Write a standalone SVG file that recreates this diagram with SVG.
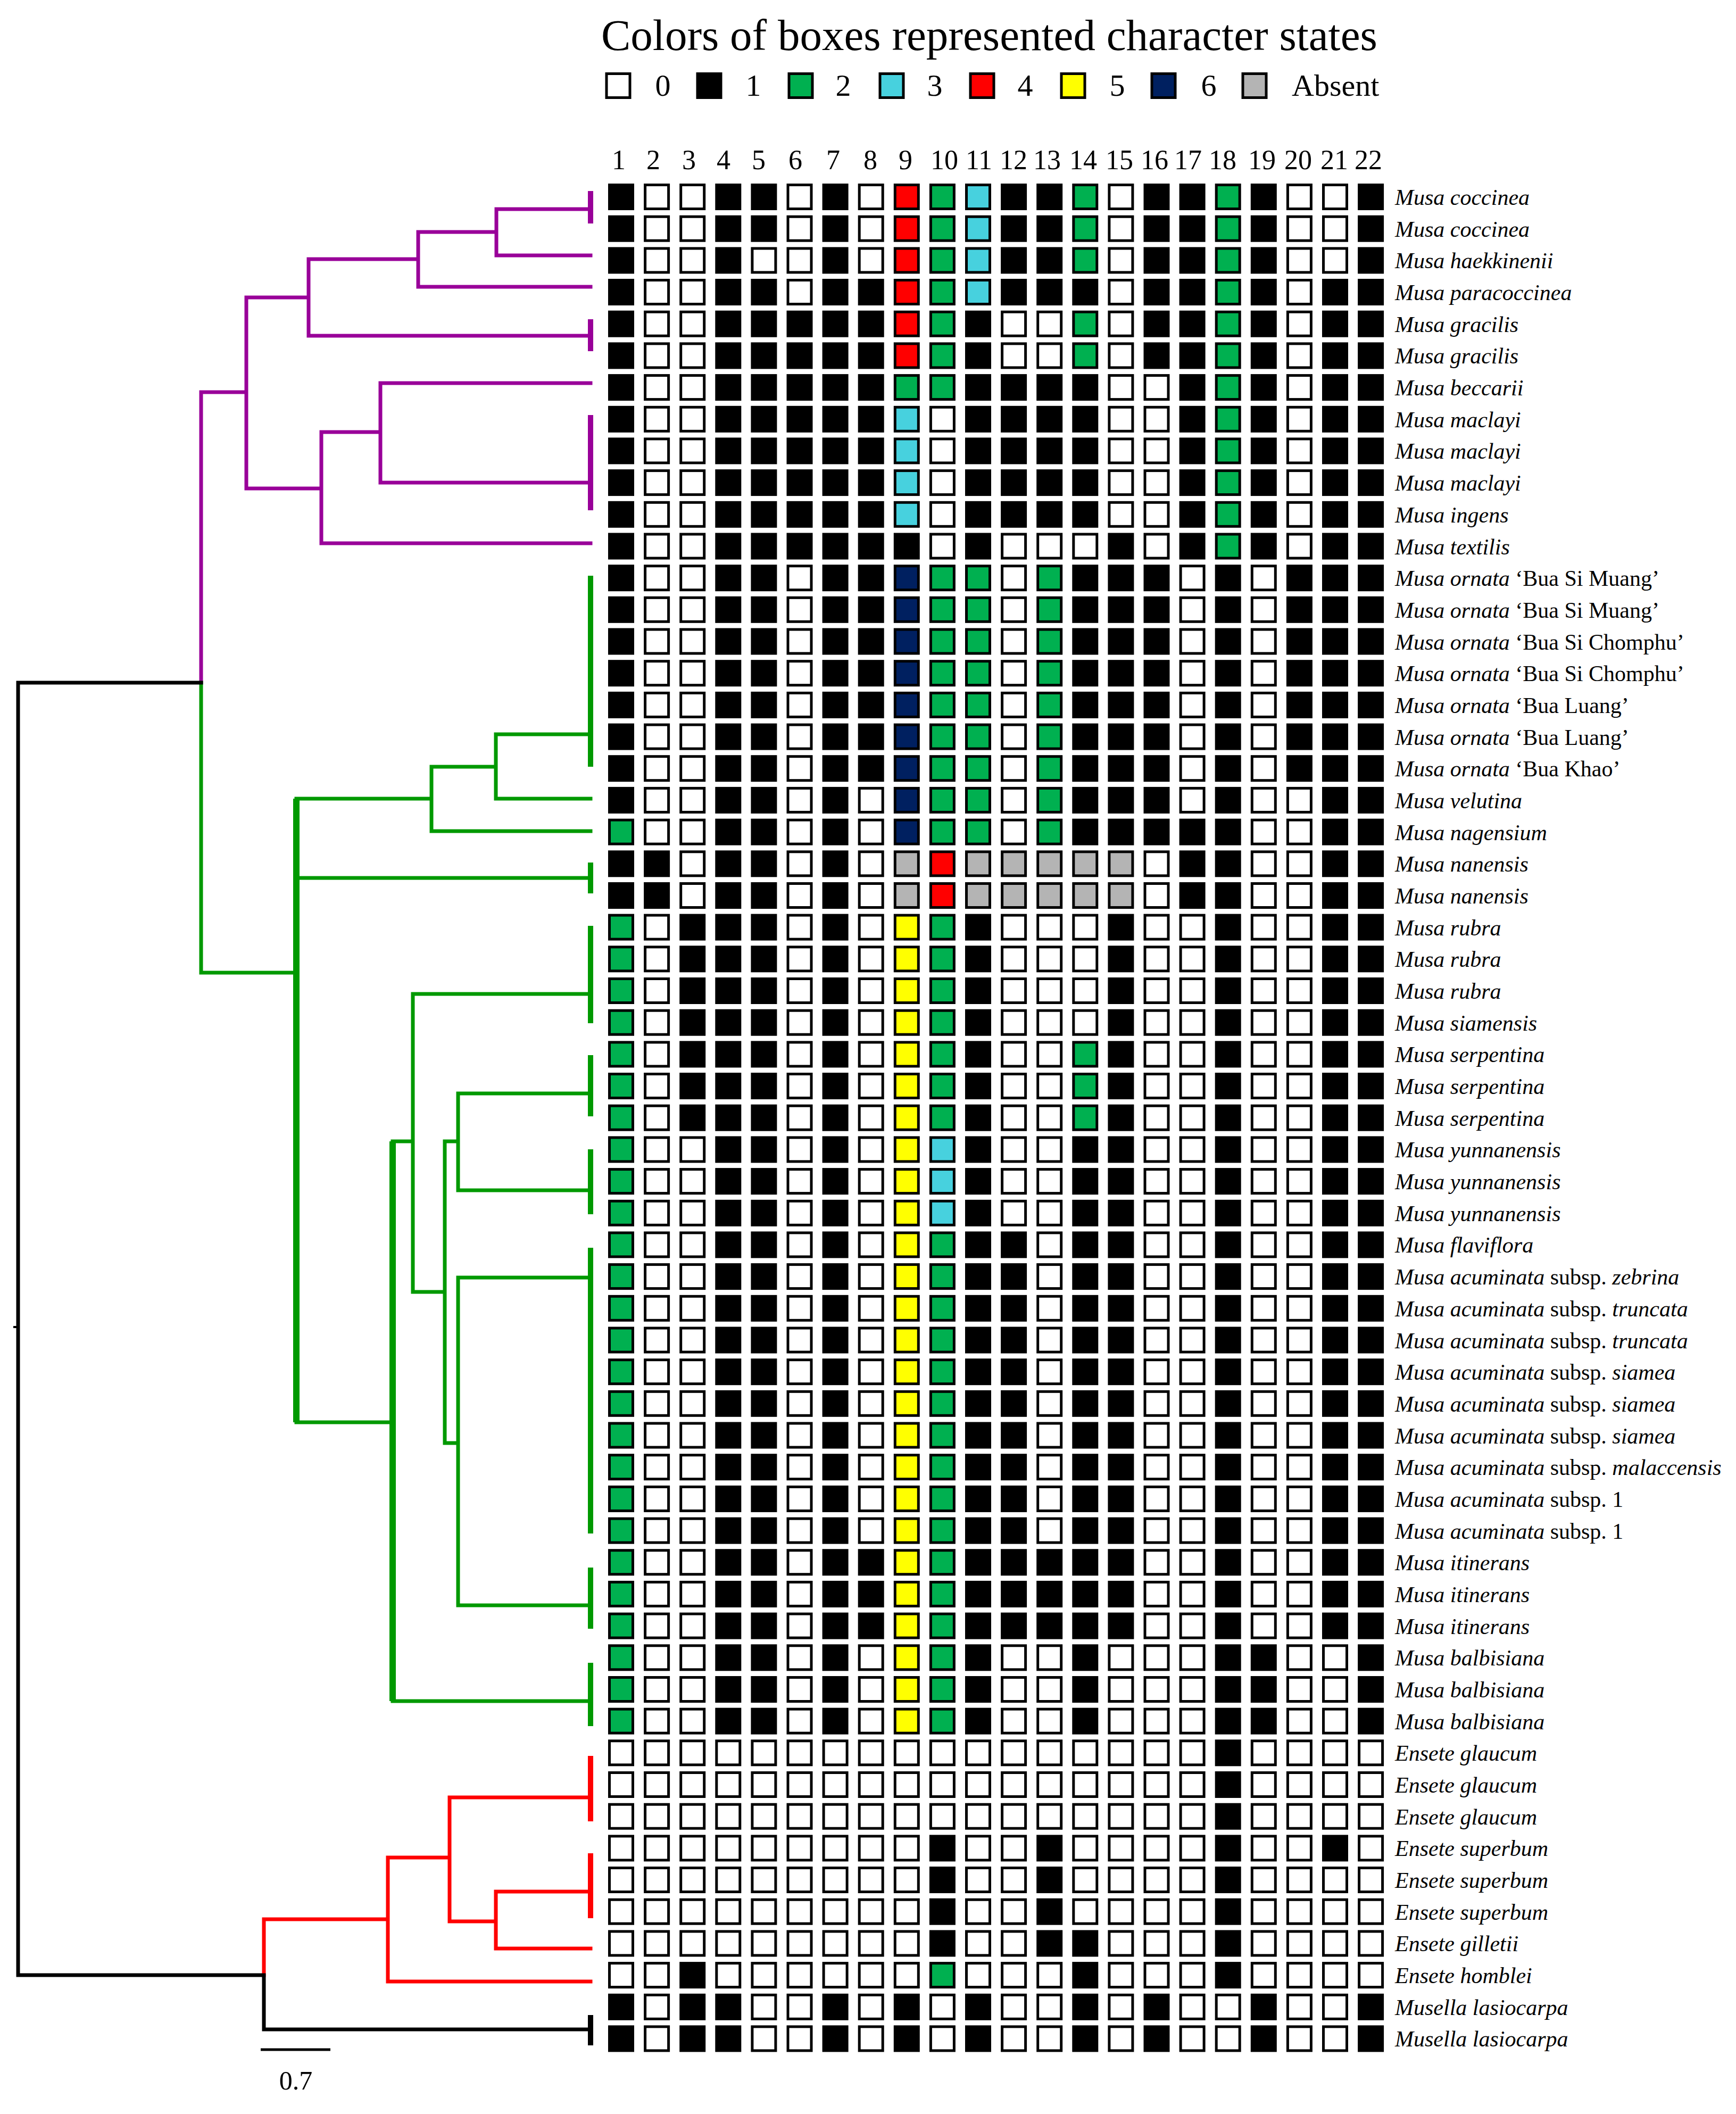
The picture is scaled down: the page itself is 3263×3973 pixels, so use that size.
<svg xmlns="http://www.w3.org/2000/svg" xmlns:xlink="http://www.w3.org/1999/xlink" width="3263" height="3973" viewBox="0 0 3263 3973">
<style>
text{font-family:"Liberation Serif","Times New Roman",serif;fill:#000}
.ttl{font-size:83px}
.lg{font-size:58px}
.cn{font-size:52px;text-anchor:middle}
.lb{font-size:42px;font-style:italic}
.n{font-style:normal}
.bx{stroke:#000;stroke-width:5}
.tr{fill:none;stroke-width:7;stroke-linecap:square;stroke-linejoin:miter}
.tip{fill:none;stroke-width:10}
.pu{stroke:#990099}.gr{stroke:#009900}.rd{stroke:#ff0000}.bk{stroke:#000}
</style>
<defs>
<rect id="a" class="bx" x="-22" y="-22.5" width="44" height="45" fill="#ffffff"/>
<rect id="b" class="bx" x="-22" y="-22.5" width="44" height="45" fill="#000000"/>
<rect id="g" class="bx" x="-22" y="-22.5" width="44" height="45" fill="#00b050"/>
<rect id="c" class="bx" x="-22" y="-22.5" width="44" height="45" fill="#47d1de"/>
<rect id="r" class="bx" x="-22" y="-22.5" width="44" height="45" fill="#ff0000"/>
<rect id="y" class="bx" x="-22" y="-22.5" width="44" height="45" fill="#ffff00"/>
<rect id="n" class="bx" x="-22" y="-22.5" width="44" height="45" fill="#002060"/>
<rect id="x" class="bx" x="-22" y="-22.5" width="44" height="45" fill="#b4b4b4"/>
<g id="p1"><use href="#b" x="1167.5"/><use href="#a" x="1234.6"/><use href="#a" x="1301.7"/><use href="#b" x="1368.8"/><use href="#b" x="1435.9"/><use href="#a" x="1503"/><use href="#b" x="1570.1"/><use href="#a" x="1637.2"/><use href="#r" x="1704.3"/><use href="#g" x="1771.4"/><use href="#c" x="1838.5"/><use href="#b" x="1905.6"/><use href="#b" x="1972.7"/><use href="#g" x="2039.8"/><use href="#a" x="2106.9"/><use href="#b" x="2174"/><use href="#b" x="2241.1"/><use href="#g" x="2308.2"/><use href="#b" x="2375.3"/><use href="#a" x="2442.4"/><use href="#a" x="2509.5"/><use href="#b" x="2576.6"/></g>
<g id="p2"><use href="#b" x="1167.5"/><use href="#a" x="1234.6"/><use href="#a" x="1301.7"/><use href="#b" x="1368.8"/><use href="#a" x="1435.9"/><use href="#a" x="1503"/><use href="#b" x="1570.1"/><use href="#a" x="1637.2"/><use href="#r" x="1704.3"/><use href="#g" x="1771.4"/><use href="#c" x="1838.5"/><use href="#b" x="1905.6"/><use href="#b" x="1972.7"/><use href="#g" x="2039.8"/><use href="#a" x="2106.9"/><use href="#b" x="2174"/><use href="#b" x="2241.1"/><use href="#g" x="2308.2"/><use href="#b" x="2375.3"/><use href="#a" x="2442.4"/><use href="#a" x="2509.5"/><use href="#b" x="2576.6"/></g>
<g id="p3"><use href="#b" x="1167.5"/><use href="#a" x="1234.6"/><use href="#a" x="1301.7"/><use href="#b" x="1368.8"/><use href="#b" x="1435.9"/><use href="#a" x="1503"/><use href="#b" x="1570.1"/><use href="#b" x="1637.2"/><use href="#r" x="1704.3"/><use href="#g" x="1771.4"/><use href="#c" x="1838.5"/><use href="#b" x="1905.6"/><use href="#b" x="1972.7"/><use href="#b" x="2039.8"/><use href="#a" x="2106.9"/><use href="#b" x="2174"/><use href="#b" x="2241.1"/><use href="#g" x="2308.2"/><use href="#b" x="2375.3"/><use href="#a" x="2442.4"/><use href="#b" x="2509.5"/><use href="#b" x="2576.6"/></g>
<g id="p4"><use href="#b" x="1167.5"/><use href="#a" x="1234.6"/><use href="#a" x="1301.7"/><use href="#b" x="1368.8"/><use href="#b" x="1435.9"/><use href="#b" x="1503"/><use href="#b" x="1570.1"/><use href="#b" x="1637.2"/><use href="#r" x="1704.3"/><use href="#g" x="1771.4"/><use href="#b" x="1838.5"/><use href="#a" x="1905.6"/><use href="#a" x="1972.7"/><use href="#g" x="2039.8"/><use href="#a" x="2106.9"/><use href="#b" x="2174"/><use href="#b" x="2241.1"/><use href="#g" x="2308.2"/><use href="#b" x="2375.3"/><use href="#a" x="2442.4"/><use href="#b" x="2509.5"/><use href="#b" x="2576.6"/></g>
<g id="p5"><use href="#b" x="1167.5"/><use href="#a" x="1234.6"/><use href="#a" x="1301.7"/><use href="#b" x="1368.8"/><use href="#b" x="1435.9"/><use href="#b" x="1503"/><use href="#b" x="1570.1"/><use href="#b" x="1637.2"/><use href="#g" x="1704.3"/><use href="#g" x="1771.4"/><use href="#b" x="1838.5"/><use href="#b" x="1905.6"/><use href="#b" x="1972.7"/><use href="#b" x="2039.8"/><use href="#a" x="2106.9"/><use href="#a" x="2174"/><use href="#b" x="2241.1"/><use href="#g" x="2308.2"/><use href="#b" x="2375.3"/><use href="#a" x="2442.4"/><use href="#b" x="2509.5"/><use href="#b" x="2576.6"/></g>
<g id="p6"><use href="#b" x="1167.5"/><use href="#a" x="1234.6"/><use href="#a" x="1301.7"/><use href="#b" x="1368.8"/><use href="#b" x="1435.9"/><use href="#b" x="1503"/><use href="#b" x="1570.1"/><use href="#b" x="1637.2"/><use href="#c" x="1704.3"/><use href="#a" x="1771.4"/><use href="#b" x="1838.5"/><use href="#b" x="1905.6"/><use href="#b" x="1972.7"/><use href="#b" x="2039.8"/><use href="#a" x="2106.9"/><use href="#a" x="2174"/><use href="#b" x="2241.1"/><use href="#g" x="2308.2"/><use href="#b" x="2375.3"/><use href="#a" x="2442.4"/><use href="#b" x="2509.5"/><use href="#b" x="2576.6"/></g>
<g id="p7"><use href="#b" x="1167.5"/><use href="#a" x="1234.6"/><use href="#a" x="1301.7"/><use href="#b" x="1368.8"/><use href="#b" x="1435.9"/><use href="#b" x="1503"/><use href="#b" x="1570.1"/><use href="#b" x="1637.2"/><use href="#b" x="1704.3"/><use href="#a" x="1771.4"/><use href="#b" x="1838.5"/><use href="#a" x="1905.6"/><use href="#a" x="1972.7"/><use href="#a" x="2039.8"/><use href="#b" x="2106.9"/><use href="#a" x="2174"/><use href="#b" x="2241.1"/><use href="#g" x="2308.2"/><use href="#b" x="2375.3"/><use href="#a" x="2442.4"/><use href="#b" x="2509.5"/><use href="#b" x="2576.6"/></g>
<g id="p8"><use href="#b" x="1167.5"/><use href="#a" x="1234.6"/><use href="#a" x="1301.7"/><use href="#b" x="1368.8"/><use href="#b" x="1435.9"/><use href="#a" x="1503"/><use href="#b" x="1570.1"/><use href="#b" x="1637.2"/><use href="#n" x="1704.3"/><use href="#g" x="1771.4"/><use href="#g" x="1838.5"/><use href="#a" x="1905.6"/><use href="#g" x="1972.7"/><use href="#b" x="2039.8"/><use href="#b" x="2106.9"/><use href="#b" x="2174"/><use href="#a" x="2241.1"/><use href="#b" x="2308.2"/><use href="#a" x="2375.3"/><use href="#b" x="2442.4"/><use href="#b" x="2509.5"/><use href="#b" x="2576.6"/></g>
<g id="p9"><use href="#b" x="1167.5"/><use href="#a" x="1234.6"/><use href="#a" x="1301.7"/><use href="#b" x="1368.8"/><use href="#b" x="1435.9"/><use href="#a" x="1503"/><use href="#b" x="1570.1"/><use href="#a" x="1637.2"/><use href="#n" x="1704.3"/><use href="#g" x="1771.4"/><use href="#g" x="1838.5"/><use href="#a" x="1905.6"/><use href="#g" x="1972.7"/><use href="#b" x="2039.8"/><use href="#b" x="2106.9"/><use href="#b" x="2174"/><use href="#a" x="2241.1"/><use href="#b" x="2308.2"/><use href="#a" x="2375.3"/><use href="#a" x="2442.4"/><use href="#b" x="2509.5"/><use href="#b" x="2576.6"/></g>
<g id="p10"><use href="#g" x="1167.5"/><use href="#a" x="1234.6"/><use href="#a" x="1301.7"/><use href="#b" x="1368.8"/><use href="#b" x="1435.9"/><use href="#a" x="1503"/><use href="#b" x="1570.1"/><use href="#a" x="1637.2"/><use href="#n" x="1704.3"/><use href="#g" x="1771.4"/><use href="#g" x="1838.5"/><use href="#a" x="1905.6"/><use href="#g" x="1972.7"/><use href="#b" x="2039.8"/><use href="#b" x="2106.9"/><use href="#b" x="2174"/><use href="#b" x="2241.1"/><use href="#b" x="2308.2"/><use href="#a" x="2375.3"/><use href="#a" x="2442.4"/><use href="#b" x="2509.5"/><use href="#b" x="2576.6"/></g>
<g id="p11"><use href="#b" x="1167.5"/><use href="#b" x="1234.6"/><use href="#a" x="1301.7"/><use href="#b" x="1368.8"/><use href="#b" x="1435.9"/><use href="#a" x="1503"/><use href="#b" x="1570.1"/><use href="#a" x="1637.2"/><use href="#x" x="1704.3"/><use href="#r" x="1771.4"/><use href="#x" x="1838.5"/><use href="#x" x="1905.6"/><use href="#x" x="1972.7"/><use href="#x" x="2039.8"/><use href="#x" x="2106.9"/><use href="#a" x="2174"/><use href="#b" x="2241.1"/><use href="#b" x="2308.2"/><use href="#a" x="2375.3"/><use href="#a" x="2442.4"/><use href="#b" x="2509.5"/><use href="#b" x="2576.6"/></g>
<g id="p12"><use href="#g" x="1167.5"/><use href="#a" x="1234.6"/><use href="#b" x="1301.7"/><use href="#b" x="1368.8"/><use href="#b" x="1435.9"/><use href="#a" x="1503"/><use href="#b" x="1570.1"/><use href="#a" x="1637.2"/><use href="#y" x="1704.3"/><use href="#g" x="1771.4"/><use href="#b" x="1838.5"/><use href="#a" x="1905.6"/><use href="#a" x="1972.7"/><use href="#a" x="2039.8"/><use href="#b" x="2106.9"/><use href="#a" x="2174"/><use href="#a" x="2241.1"/><use href="#b" x="2308.2"/><use href="#a" x="2375.3"/><use href="#a" x="2442.4"/><use href="#b" x="2509.5"/><use href="#b" x="2576.6"/></g>
<g id="p13"><use href="#g" x="1167.5"/><use href="#a" x="1234.6"/><use href="#b" x="1301.7"/><use href="#b" x="1368.8"/><use href="#b" x="1435.9"/><use href="#a" x="1503"/><use href="#b" x="1570.1"/><use href="#a" x="1637.2"/><use href="#y" x="1704.3"/><use href="#g" x="1771.4"/><use href="#b" x="1838.5"/><use href="#a" x="1905.6"/><use href="#a" x="1972.7"/><use href="#g" x="2039.8"/><use href="#b" x="2106.9"/><use href="#a" x="2174"/><use href="#a" x="2241.1"/><use href="#b" x="2308.2"/><use href="#a" x="2375.3"/><use href="#a" x="2442.4"/><use href="#b" x="2509.5"/><use href="#b" x="2576.6"/></g>
<g id="p14"><use href="#g" x="1167.5"/><use href="#a" x="1234.6"/><use href="#a" x="1301.7"/><use href="#b" x="1368.8"/><use href="#b" x="1435.9"/><use href="#a" x="1503"/><use href="#b" x="1570.1"/><use href="#a" x="1637.2"/><use href="#y" x="1704.3"/><use href="#c" x="1771.4"/><use href="#b" x="1838.5"/><use href="#a" x="1905.6"/><use href="#a" x="1972.7"/><use href="#b" x="2039.8"/><use href="#b" x="2106.9"/><use href="#a" x="2174"/><use href="#a" x="2241.1"/><use href="#b" x="2308.2"/><use href="#a" x="2375.3"/><use href="#a" x="2442.4"/><use href="#b" x="2509.5"/><use href="#b" x="2576.6"/></g>
<g id="p15"><use href="#g" x="1167.5"/><use href="#a" x="1234.6"/><use href="#a" x="1301.7"/><use href="#b" x="1368.8"/><use href="#b" x="1435.9"/><use href="#a" x="1503"/><use href="#b" x="1570.1"/><use href="#a" x="1637.2"/><use href="#y" x="1704.3"/><use href="#g" x="1771.4"/><use href="#b" x="1838.5"/><use href="#b" x="1905.6"/><use href="#a" x="1972.7"/><use href="#b" x="2039.8"/><use href="#b" x="2106.9"/><use href="#a" x="2174"/><use href="#a" x="2241.1"/><use href="#b" x="2308.2"/><use href="#a" x="2375.3"/><use href="#a" x="2442.4"/><use href="#b" x="2509.5"/><use href="#b" x="2576.6"/></g>
<g id="p16"><use href="#g" x="1167.5"/><use href="#a" x="1234.6"/><use href="#a" x="1301.7"/><use href="#b" x="1368.8"/><use href="#b" x="1435.9"/><use href="#a" x="1503"/><use href="#b" x="1570.1"/><use href="#b" x="1637.2"/><use href="#y" x="1704.3"/><use href="#g" x="1771.4"/><use href="#b" x="1838.5"/><use href="#b" x="1905.6"/><use href="#b" x="1972.7"/><use href="#b" x="2039.8"/><use href="#b" x="2106.9"/><use href="#a" x="2174"/><use href="#a" x="2241.1"/><use href="#b" x="2308.2"/><use href="#a" x="2375.3"/><use href="#a" x="2442.4"/><use href="#b" x="2509.5"/><use href="#b" x="2576.6"/></g>
<g id="p17"><use href="#g" x="1167.5"/><use href="#a" x="1234.6"/><use href="#a" x="1301.7"/><use href="#b" x="1368.8"/><use href="#b" x="1435.9"/><use href="#a" x="1503"/><use href="#b" x="1570.1"/><use href="#a" x="1637.2"/><use href="#y" x="1704.3"/><use href="#g" x="1771.4"/><use href="#b" x="1838.5"/><use href="#a" x="1905.6"/><use href="#a" x="1972.7"/><use href="#b" x="2039.8"/><use href="#a" x="2106.9"/><use href="#a" x="2174"/><use href="#a" x="2241.1"/><use href="#b" x="2308.2"/><use href="#b" x="2375.3"/><use href="#a" x="2442.4"/><use href="#a" x="2509.5"/><use href="#b" x="2576.6"/></g>
<g id="p18"><use href="#a" x="1167.5"/><use href="#a" x="1234.6"/><use href="#a" x="1301.7"/><use href="#a" x="1368.8"/><use href="#a" x="1435.9"/><use href="#a" x="1503"/><use href="#a" x="1570.1"/><use href="#a" x="1637.2"/><use href="#a" x="1704.3"/><use href="#a" x="1771.4"/><use href="#a" x="1838.5"/><use href="#a" x="1905.6"/><use href="#a" x="1972.7"/><use href="#a" x="2039.8"/><use href="#a" x="2106.9"/><use href="#a" x="2174"/><use href="#a" x="2241.1"/><use href="#b" x="2308.2"/><use href="#a" x="2375.3"/><use href="#a" x="2442.4"/><use href="#a" x="2509.5"/><use href="#a" x="2576.6"/></g>
<g id="p19"><use href="#a" x="1167.5"/><use href="#a" x="1234.6"/><use href="#a" x="1301.7"/><use href="#a" x="1368.8"/><use href="#a" x="1435.9"/><use href="#a" x="1503"/><use href="#a" x="1570.1"/><use href="#a" x="1637.2"/><use href="#a" x="1704.3"/><use href="#b" x="1771.4"/><use href="#a" x="1838.5"/><use href="#a" x="1905.6"/><use href="#b" x="1972.7"/><use href="#a" x="2039.8"/><use href="#a" x="2106.9"/><use href="#a" x="2174"/><use href="#a" x="2241.1"/><use href="#b" x="2308.2"/><use href="#a" x="2375.3"/><use href="#a" x="2442.4"/><use href="#b" x="2509.5"/><use href="#a" x="2576.6"/></g>
<g id="p20"><use href="#a" x="1167.5"/><use href="#a" x="1234.6"/><use href="#a" x="1301.7"/><use href="#a" x="1368.8"/><use href="#a" x="1435.9"/><use href="#a" x="1503"/><use href="#a" x="1570.1"/><use href="#a" x="1637.2"/><use href="#a" x="1704.3"/><use href="#b" x="1771.4"/><use href="#a" x="1838.5"/><use href="#a" x="1905.6"/><use href="#b" x="1972.7"/><use href="#a" x="2039.8"/><use href="#a" x="2106.9"/><use href="#a" x="2174"/><use href="#a" x="2241.1"/><use href="#b" x="2308.2"/><use href="#a" x="2375.3"/><use href="#a" x="2442.4"/><use href="#a" x="2509.5"/><use href="#a" x="2576.6"/></g>
<g id="p21"><use href="#a" x="1167.5"/><use href="#a" x="1234.6"/><use href="#a" x="1301.7"/><use href="#a" x="1368.8"/><use href="#a" x="1435.9"/><use href="#a" x="1503"/><use href="#a" x="1570.1"/><use href="#a" x="1637.2"/><use href="#a" x="1704.3"/><use href="#b" x="1771.4"/><use href="#a" x="1838.5"/><use href="#a" x="1905.6"/><use href="#b" x="1972.7"/><use href="#b" x="2039.8"/><use href="#a" x="2106.9"/><use href="#a" x="2174"/><use href="#a" x="2241.1"/><use href="#b" x="2308.2"/><use href="#a" x="2375.3"/><use href="#a" x="2442.4"/><use href="#a" x="2509.5"/><use href="#a" x="2576.6"/></g>
<g id="p22"><use href="#a" x="1167.5"/><use href="#a" x="1234.6"/><use href="#b" x="1301.7"/><use href="#a" x="1368.8"/><use href="#a" x="1435.9"/><use href="#a" x="1503"/><use href="#a" x="1570.1"/><use href="#a" x="1637.2"/><use href="#a" x="1704.3"/><use href="#g" x="1771.4"/><use href="#a" x="1838.5"/><use href="#a" x="1905.6"/><use href="#a" x="1972.7"/><use href="#b" x="2039.8"/><use href="#a" x="2106.9"/><use href="#a" x="2174"/><use href="#a" x="2241.1"/><use href="#b" x="2308.2"/><use href="#a" x="2375.3"/><use href="#a" x="2442.4"/><use href="#a" x="2509.5"/><use href="#a" x="2576.6"/></g>
<g id="p23"><use href="#b" x="1167.5"/><use href="#a" x="1234.6"/><use href="#b" x="1301.7"/><use href="#b" x="1368.8"/><use href="#a" x="1435.9"/><use href="#a" x="1503"/><use href="#b" x="1570.1"/><use href="#a" x="1637.2"/><use href="#b" x="1704.3"/><use href="#a" x="1771.4"/><use href="#b" x="1838.5"/><use href="#a" x="1905.6"/><use href="#a" x="1972.7"/><use href="#b" x="2039.8"/><use href="#a" x="2106.9"/><use href="#b" x="2174"/><use href="#a" x="2241.1"/><use href="#a" x="2308.2"/><use href="#b" x="2375.3"/><use href="#a" x="2442.4"/><use href="#a" x="2509.5"/><use href="#b" x="2576.6"/></g>
</defs>
<rect width="3263" height="3973" fill="#ffffff"/>
<g id="title"><text class="ttl" x="1130" y="94">Colors of boxes represented character states</text></g>
<g id="legend">
<use href="#a" x="1162" y="161"/><text class="lg" x="1246" y="180" text-anchor="middle">0</text>
<use href="#b" x="1333" y="161"/><text class="lg" x="1416" y="180" text-anchor="middle">1</text>
<use href="#g" x="1505" y="161"/><text class="lg" x="1585" y="180" text-anchor="middle">2</text>
<use href="#c" x="1676" y="161"/><text class="lg" x="1757" y="180" text-anchor="middle">3</text>
<use href="#r" x="1846" y="161"/><text class="lg" x="1927" y="180" text-anchor="middle">4</text>
<use href="#y" x="2017" y="161"/><text class="lg" x="2100" y="180" text-anchor="middle">5</text>
<use href="#n" x="2187" y="161"/><text class="lg" x="2272" y="180" text-anchor="middle">6</text>
<use href="#x" x="2358" y="161"/><text class="lg" x="2428" y="180">Absent</text>
</g>
<g id="columns">
<text class="cn" x="1163" y="318">1</text><text class="cn" x="1228" y="318">2</text><text class="cn" x="1295" y="318">3</text><text class="cn" x="1360" y="318">4</text><text class="cn" x="1426" y="318">5</text><text class="cn" x="1495" y="318">6</text><text class="cn" x="1566" y="318">7</text><text class="cn" x="1636" y="318">8</text><text class="cn" x="1702" y="318">9</text><text class="cn" x="1775" y="318">10</text><text class="cn" x="1840" y="318">11</text><text class="cn" x="1905" y="318">12</text><text class="cn" x="1968" y="318">13</text><text class="cn" x="2036" y="318">14</text><text class="cn" x="2104" y="318">15</text><text class="cn" x="2170" y="318">16</text><text class="cn" x="2233" y="318">17</text><text class="cn" x="2298" y="318">18</text><text class="cn" x="2372" y="318">19</text><text class="cn" x="2440" y="318">20</text><text class="cn" x="2508" y="318">21</text><text class="cn" x="2572" y="318">22</text>
</g>
<g id="connectors">
<path class="tr pu" d="M1110 393H933V480H1110M933 436H786V539H1110M786 487H580V631H1110M580 559H463V918H604M1110 720H715V907H1110M715 812H604V1021H1110M463 737H378V1283"/>
<path class="tip pu" d="M1110 359V420M1110 600V660M1110 780V959"/>
<path class="tr gr" d="M378 1283V1828H557M811 1501H557V2673H738M557 1650H1110M932 1441H811V1562H1110M1110 1380H932V1501H1110M776 2145H738V3197H1110M1110 1868H776V2428H836M861 2145H836V2712H861M1110 2055H861V2237H1110M1110 2401H861V3017H1110"/>
<path class="gr" fill="none" stroke-width="12" d="M557 1501V2673M738 2145V3197"/>
<path class="tip gr" d="M1110 1082V1441M1110 1621V1679M1110 1740V1923M1110 1983V2098M1110 2160V2282M1110 2345V2882M1110 2946V3061M1110 3125V3244"/>
<path class="tr rd" d="M496 3712V3607H729M845 3491H729V3724H1110M1110 3378H845V3611H932M1110 3555H932V3662H1110"/>
<path class="tip rd" d="M1110 3300V3423M1110 3483V3605"/>
<path class="tr bk" stroke-width="6" d="M378 1283H34V3712H496V3814H1110"/>
<path class="bk" fill="none" stroke-width="4" d="M25 2494H34"/>
<path class="tip bk" d="M1110 3787V3844"/>
</g>
<g id="scale"><path class="bk" fill="none" stroke-width="5" d="M490 3852H621"/><text x="556" y="3927" font-size="50" text-anchor="middle">0.7</text></g>
<g id="row-1" transform="translate(0,370)"><use href="#p1"/><text class="lb" x="2622" y="15">Musa coccinea</text></g>
<g id="row-2" transform="translate(0,429.7)"><use href="#p1"/><text class="lb" x="2622" y="15">Musa coccinea</text></g>
<g id="row-3" transform="translate(0,489.4)"><use href="#p2"/><text class="lb" x="2622" y="15">Musa haekkinenii</text></g>
<g id="row-4" transform="translate(0,549)"><use href="#p3"/><text class="lb" x="2622" y="15">Musa paracoccinea</text></g>
<g id="row-5" transform="translate(0,608.7)"><use href="#p4"/><text class="lb" x="2622" y="15">Musa gracilis</text></g>
<g id="row-6" transform="translate(0,668.4)"><use href="#p4"/><text class="lb" x="2622" y="15">Musa gracilis</text></g>
<g id="row-7" transform="translate(0,728.1)"><use href="#p5"/><text class="lb" x="2622" y="15">Musa beccarii</text></g>
<g id="row-8" transform="translate(0,787.8)"><use href="#p6"/><text class="lb" x="2622" y="15">Musa maclayi</text></g>
<g id="row-9" transform="translate(0,847.4)"><use href="#p6"/><text class="lb" x="2622" y="15">Musa maclayi</text></g>
<g id="row-10" transform="translate(0,907.1)"><use href="#p6"/><text class="lb" x="2622" y="15">Musa maclayi</text></g>
<g id="row-11" transform="translate(0,966.8)"><use href="#p6"/><text class="lb" x="2622" y="15">Musa ingens</text></g>
<g id="row-12" transform="translate(0,1026.5)"><use href="#p7"/><text class="lb" x="2622" y="15">Musa textilis</text></g>
<g id="row-13" transform="translate(0,1086.2)"><use href="#p8"/><text class="lb" x="2622" y="15">Musa ornata <tspan class="n">‘Bua Si Muang’</tspan></text></g>
<g id="row-14" transform="translate(0,1145.8)"><use href="#p8"/><text class="lb" x="2622" y="15">Musa ornata <tspan class="n">‘Bua Si Muang’</tspan></text></g>
<g id="row-15" transform="translate(0,1205.5)"><use href="#p8"/><text class="lb" x="2622" y="15">Musa ornata <tspan class="n">‘Bua Si Chomphu’</tspan></text></g>
<g id="row-16" transform="translate(0,1265.2)"><use href="#p8"/><text class="lb" x="2622" y="15">Musa ornata <tspan class="n">‘Bua Si Chomphu’</tspan></text></g>
<g id="row-17" transform="translate(0,1324.9)"><use href="#p8"/><text class="lb" x="2622" y="15">Musa ornata <tspan class="n">‘Bua Luang’</tspan></text></g>
<g id="row-18" transform="translate(0,1384.6)"><use href="#p8"/><text class="lb" x="2622" y="15">Musa ornata <tspan class="n">‘Bua Luang’</tspan></text></g>
<g id="row-19" transform="translate(0,1444.2)"><use href="#p8"/><text class="lb" x="2622" y="15">Musa ornata <tspan class="n">‘Bua Khao’</tspan></text></g>
<g id="row-20" transform="translate(0,1503.9)"><use href="#p9"/><text class="lb" x="2622" y="15">Musa velutina</text></g>
<g id="row-21" transform="translate(0,1563.6)"><use href="#p10"/><text class="lb" x="2622" y="15">Musa nagensium</text></g>
<g id="row-22" transform="translate(0,1623.3)"><use href="#p11"/><text class="lb" x="2622" y="15">Musa nanensis</text></g>
<g id="row-23" transform="translate(0,1683)"><use href="#p11"/><text class="lb" x="2622" y="15">Musa nanensis</text></g>
<g id="row-24" transform="translate(0,1742.6)"><use href="#p12"/><text class="lb" x="2622" y="15">Musa rubra</text></g>
<g id="row-25" transform="translate(0,1802.3)"><use href="#p12"/><text class="lb" x="2622" y="15">Musa rubra</text></g>
<g id="row-26" transform="translate(0,1862)"><use href="#p12"/><text class="lb" x="2622" y="15">Musa rubra</text></g>
<g id="row-27" transform="translate(0,1921.7)"><use href="#p12"/><text class="lb" x="2622" y="15">Musa siamensis</text></g>
<g id="row-28" transform="translate(0,1981.4)"><use href="#p13"/><text class="lb" x="2622" y="15">Musa serpentina</text></g>
<g id="row-29" transform="translate(0,2041)"><use href="#p13"/><text class="lb" x="2622" y="15">Musa serpentina</text></g>
<g id="row-30" transform="translate(0,2100.7)"><use href="#p13"/><text class="lb" x="2622" y="15">Musa serpentina</text></g>
<g id="row-31" transform="translate(0,2160.4)"><use href="#p14"/><text class="lb" x="2622" y="15">Musa yunnanensis</text></g>
<g id="row-32" transform="translate(0,2220.1)"><use href="#p14"/><text class="lb" x="2622" y="15">Musa yunnanensis</text></g>
<g id="row-33" transform="translate(0,2279.8)"><use href="#p14"/><text class="lb" x="2622" y="15">Musa yunnanensis</text></g>
<g id="row-34" transform="translate(0,2339.4)"><use href="#p15"/><text class="lb" x="2622" y="15">Musa flaviflora</text></g>
<g id="row-35" transform="translate(0,2399.1)"><use href="#p15"/><text class="lb" x="2622" y="15">Musa acuminata <tspan class="n">subsp.</tspan> zebrina</text></g>
<g id="row-36" transform="translate(0,2458.8)"><use href="#p15"/><text class="lb" x="2622" y="15">Musa acuminata <tspan class="n">subsp.</tspan> truncata</text></g>
<g id="row-37" transform="translate(0,2518.5)"><use href="#p15"/><text class="lb" x="2622" y="15">Musa acuminata <tspan class="n">subsp.</tspan> truncata</text></g>
<g id="row-38" transform="translate(0,2578.2)"><use href="#p15"/><text class="lb" x="2622" y="15">Musa acuminata <tspan class="n">subsp.</tspan> siamea</text></g>
<g id="row-39" transform="translate(0,2637.8)"><use href="#p15"/><text class="lb" x="2622" y="15">Musa acuminata <tspan class="n">subsp.</tspan> siamea</text></g>
<g id="row-40" transform="translate(0,2697.5)"><use href="#p15"/><text class="lb" x="2622" y="15">Musa acuminata <tspan class="n">subsp.</tspan> siamea</text></g>
<g id="row-41" transform="translate(0,2757.2)"><use href="#p15"/><text class="lb" x="2622" y="15">Musa acuminata <tspan class="n">subsp.</tspan> malaccensis</text></g>
<g id="row-42" transform="translate(0,2816.9)"><use href="#p15"/><text class="lb" x="2622" y="15">Musa acuminata <tspan class="n">subsp. 1</tspan></text></g>
<g id="row-43" transform="translate(0,2876.6)"><use href="#p15"/><text class="lb" x="2622" y="15">Musa acuminata <tspan class="n">subsp. 1</tspan></text></g>
<g id="row-44" transform="translate(0,2936.2)"><use href="#p16"/><text class="lb" x="2622" y="15">Musa itinerans</text></g>
<g id="row-45" transform="translate(0,2995.9)"><use href="#p16"/><text class="lb" x="2622" y="15">Musa itinerans</text></g>
<g id="row-46" transform="translate(0,3055.6)"><use href="#p16"/><text class="lb" x="2622" y="15">Musa itinerans</text></g>
<g id="row-47" transform="translate(0,3115.3)"><use href="#p17"/><text class="lb" x="2622" y="15">Musa balbisiana</text></g>
<g id="row-48" transform="translate(0,3175)"><use href="#p17"/><text class="lb" x="2622" y="15">Musa balbisiana</text></g>
<g id="row-49" transform="translate(0,3234.6)"><use href="#p17"/><text class="lb" x="2622" y="15">Musa balbisiana</text></g>
<g id="row-50" transform="translate(0,3294.3)"><use href="#p18"/><text class="lb" x="2622" y="15">Ensete glaucum</text></g>
<g id="row-51" transform="translate(0,3354)"><use href="#p18"/><text class="lb" x="2622" y="15">Ensete glaucum</text></g>
<g id="row-52" transform="translate(0,3413.7)"><use href="#p18"/><text class="lb" x="2622" y="15">Ensete glaucum</text></g>
<g id="row-53" transform="translate(0,3473.4)"><use href="#p19"/><text class="lb" x="2622" y="15">Ensete superbum</text></g>
<g id="row-54" transform="translate(0,3533)"><use href="#p20"/><text class="lb" x="2622" y="15">Ensete superbum</text></g>
<g id="row-55" transform="translate(0,3592.7)"><use href="#p20"/><text class="lb" x="2622" y="15">Ensete superbum</text></g>
<g id="row-56" transform="translate(0,3652.4)"><use href="#p21"/><text class="lb" x="2622" y="15">Ensete gilletii</text></g>
<g id="row-57" transform="translate(0,3712.1)"><use href="#p22"/><text class="lb" x="2622" y="15">Ensete homblei</text></g>
<g id="row-58" transform="translate(0,3771.8)"><use href="#p23"/><text class="lb" x="2622" y="15">Musella lasiocarpa</text></g>
<g id="row-59" transform="translate(0,3831.4)"><use href="#p23"/><text class="lb" x="2622" y="15">Musella lasiocarpa</text></g>
</svg>
